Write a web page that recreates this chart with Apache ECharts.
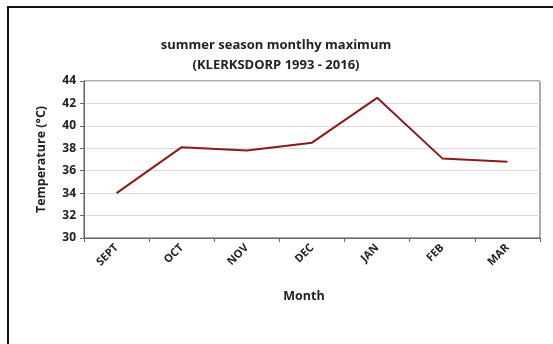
<!DOCTYPE html>
<html>
<head>
<meta charset="utf-8">
<script src="https://cdn.jsdelivr.net/npm/echarts@6/dist/echarts.min.js"></script>
<style>
  html, body { margin: 0; padding: 0; background: #ffffff; }
  #chart { width: 553px; height: 344px; }
</style>
</head>
<body>
<div id="chart"></div>
<script>
// Summer season monthly maximum temperature, Klerksdorp 1993-2016
const months = ['SEPT', 'OCT', 'NOV', 'DEC', 'JAN', 'FEB', 'MAR'];
const maxTemps = [34.0, 38.1, 37.8, 38.5, 42.5, 37.1, 36.8];
const yMin = 30;
const yMax = 44;
const yStep = 2;

const font = '"Open Sans", "Noto Sans", sans-serif';
const chart = echarts.init(document.getElementById('chart'), null, { renderer: 'canvas' });

chart.setOption({
  backgroundColor: '#ffffff',
  animation: false,
  graphic: [
    // frame around the chart (runs off the right and bottom edges)
    {
      type: 'rect',
      shape: { x: 8, y: 7, width: 600, height: 400 },
      style: { fill: 'none', stroke: '#111', lineWidth: 2 },
      silent: true
    }
  ],
  title: {
    text: 'summer season montlhy maximum\n(KLERKSDORP 1993 - 2016)',
    left: 271,
    top: 30,
    textAlign: 'center',
    textStyle: {
      fontFamily: font,
      fontWeight: 'bold',
      fontSize: 13,
      color: '#222',
      lineHeight: 20
    }
  },
  grid: {
    left: 84,
    top: 81,
    width: 456,
    height: 157,
    show: true,
    borderColor: '#555',
    borderWidth: 1,
    backgroundColor: '#fff'
  },
  xAxis: {
    type: 'category',
    data: months,
    boundaryGap: true,
    name: 'Month',
    nameLocation: 'middle',
    nameGap: 52,
    nameTextStyle: {
      fontFamily: font,
      fontWeight: 'bold',
      fontSize: 12.5,
      color: '#222',
      padding: [0, 16, 0, 0]
    },
    axisLine: { lineStyle: { color: '#666', width: 1 } },
    axisTick: { show: true, alignWithLabel: false, length: 4, lineStyle: { color: '#666' } },
    axisLabel: {
      rotate: 45,
      margin: 8,
      fontFamily: font,
      fontWeight: 'bold',
      fontSize: 11,
      color: '#222'
    },
    splitLine: { show: false }
  },
  yAxis: {
    type: 'value',
    min: yMin,
    max: yMax,
    interval: yStep,
    name: 'Temperature (°C)',
    nameLocation: 'middle',
    nameGap: 36,
    nameRotate: 90,
    nameTextStyle: {
      fontFamily: font,
      fontWeight: 'bold',
      fontSize: 12.5,
      color: '#222'
    },
    axisLine: { show: true, lineStyle: { color: '#666', width: 1 } },
    axisTick: { show: true, length: 4, lineStyle: { color: '#666' } },
    axisLabel: {
      margin: 8,
      fontFamily: font,
      fontWeight: 'bold',
      fontSize: 12,
      color: '#222'
    },
    splitLine: { show: true, lineStyle: { color: '#dadada', width: 1 } }
  },
  series: [
    {
      type: 'line',
      data: maxTemps,
      symbol: 'none',
      lineStyle: { color: '#8b1a1a', width: 2 },
      itemStyle: { color: '#8b1a1a' }
    }
  ]
});
</script>
</body>
</html>
